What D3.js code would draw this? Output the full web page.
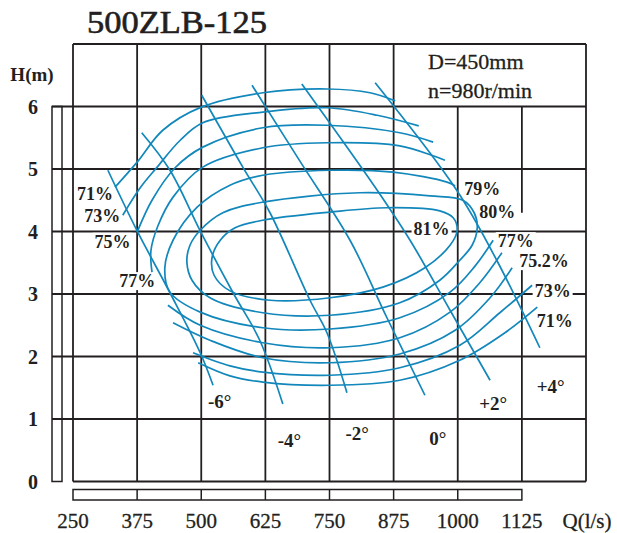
<!DOCTYPE html>
<html>
<head>
<meta charset="utf-8">
<script src="https://cdn.jsdelivr.net/npm/d3@7"></script>
<style>
	body { margin: 0; background: #fff; }
	svg text { font-family: "Liberation Serif", "Times New Roman", serif; fill: #231f20; }
</style>
</head>
<body>
<svg id="chart" width="617" height="533"></svg>
<script>
// axis ticks
var qTicks = [250, 375, 500, 625, 750, 875, 1000, 1125];
var hTicks = [0, 1, 2, 3, 4, 5, 6];

// blade angle Q-H lines, [Q l/s, H m]
var bladeLabels = ["-6°", "-4°", "-2°", "0°", "+2°", "+4°"];
var bladeLabelPos = [[536, 1.18], [672, 0.55], [804, 0.66], [961, 0.58], [1069, 1.14], [1181, 1.42]];
var bladeM6 = [[318, 4.98], [375, 4.01], [439, 3.02], [498, 2.06], [523, 1.54]];
var bladeM4 = [[384, 5.58], [439, 4.98], [498, 4.01], [562, 3.02], [614, 2.26], [659, 1.24]];
var bladeM2 = [[501, 6.18], [581, 5.03], [634, 4.30], [712, 2.90], [745, 2.38], [784, 1.42]];
var blade0 = [[599, 6.34], [692, 5.13], [790, 3.86], [862, 2.62], [936, 1.38]];
var bladeP2 = [[696, 6.36], [843, 4.66], [907, 3.86], [985, 2.74], [1063, 1.62]];
var bladeP4 = [[839, 6.38], [998, 4.66], [1076, 3.54], [1160, 2.14]];

// efficiency curves, upper arcs
var eff71Top = [[332, 4.71], [375, 5.11], [425, 5.62], [500, 5.99], [620, 6.22], [745, 6.28], [829, 6.22], [878, 6.09]];
var eff73Top = [[347, 4.26], [381, 4.70], [414, 5.03], [459, 5.46], [503, 5.74], [620, 5.91], [745, 5.98], [843, 5.86], [924, 5.69]];
var eff75Top = [[375, 3.99], [404, 4.50], [449, 5.02], [503, 5.35], [620, 5.66], [745, 5.70], [887, 5.58], [952, 5.43]];
var eff77Top = [[404, 3.35], [402, 3.70], [416, 4.10], [445, 4.55], [503, 5.03], [620, 5.34], [745, 5.42], [887, 5.37], [975, 5.14]];
// lower arcs
var effLow1 = [[435, 2.82], [498, 2.50], [620, 2.22], [751, 2.14], [887, 2.30], [985, 2.71], [1043, 3.18], [1086, 3.66]];
var effLow2 = [[445, 2.54], [517, 2.26], [620, 1.98], [751, 1.90], [887, 2.04], [995, 2.42], [1063, 2.94], [1106, 3.42]];
var effLow3 = [[484, 2.06], [556, 1.85], [620, 1.75], [751, 1.70], [887, 1.82], [1004, 2.18], [1082, 2.70], [1145, 3.14]];
var effLow4 = [[494, 1.90], [556, 1.69], [620, 1.59], [751, 1.54], [887, 1.62], [1004, 1.94], [1092, 2.38], [1155, 2.79]];
// 79% (open on the right), 80% and 81% loops
var eff79 = [[995, 4.73], [979, 4.79], [874, 4.95], [751, 4.98], [620, 4.90], [556, 4.74], [492, 4.39], [445, 3.86],
	[429, 3.42], [439, 3.03], [498, 2.71], [620, 2.46], [751, 2.44], [887, 2.62], [985, 3.03], [1034, 3.45], [1069, 3.86]];
var eff80 = [[620, 4.47], [809, 4.62], [946, 4.57], [1010, 4.50], [1032, 4.30], [1038, 4.06], [1028, 3.78], [1004, 3.54],
	[965, 3.22], [887, 2.86], [751, 2.66], [620, 2.70], [517, 2.94], [482, 3.22], [472, 3.51], [478, 3.78], [498, 4.02], [542, 4.30]];
var eff81 = [[620, 4.18], [751, 4.31], [862, 4.38], [965, 4.33], [991, 4.22], [999, 4.02], [985, 3.78], [936, 3.42],
	[854, 3.11], [751, 2.94], [634, 2.90], [556, 3.05], [525, 3.30], [521, 3.58], [537, 3.86], [566, 4.06]];

var effLabels = ["71%", "73%", "75%", "77%", "79%", "80%", "81%", "77%", "75.2%", "73%", "71%"];
var effLabelPos = [[293, 4.50], [307, 4.15], [327, 3.74], [375, 3.11], [1048, 4.58], [1077, 4.22], [949, 3.94],
	[1113, 3.75], [1168, 3.43], [1185, 2.95], [1189, 2.47]];

var ink = "#231f20",
	blue = "#1287bb";

var svg = d3.select("#chart");
var x = d3.scaleLinear().domain([250, 1250]).range([73, 586]);
var y = d3.scaleLinear().domain([0, 7]).range([481.5, 44]);

svg.append("text")
	.attr("x", 87).attr("y", 33)
	.attr("textLength", 180).attr("lengthAdjust", "spacingAndGlyphs")
	.attr("stroke", ink).attr("stroke-width", 0.6)
	.style("font-size", "31px")
	.text("500ZLB-125");

// grid
var grid = svg.append("g").attr("stroke", ink).attr("stroke-width", 1.8).attr("fill", "none");
d3.range(250, 1251, 125).forEach(function(q) {
	var top = (q === 1000 || q === 1125) ? 6 : 7;
	if (q === 1125) {
		grid.append("line").attr("x1", x(q)).attr("x2", x(q)).attr("y1", y(6)).attr("y2", y(4.3));
		grid.append("line").attr("x1", x(q)).attr("x2", x(q)).attr("y1", y(3.45)).attr("y2", y(0));
	} else {
		grid.append("line").attr("x1", x(q)).attr("x2", x(q)).attr("y1", y(top)).attr("y2", y(0));
	}
});
[0, 1, 2, 3, 4, 5, 6, 7].forEach(function(h) {
	var left = (h === 0 || h === 7) ? x(250) : 52;
	grid.append("line").attr("x1", left).attr("x2", x(1250)).attr("y1", y(h)).attr("y2", y(h));
});

// side bars
var bars = svg.append("g").attr("stroke", ink).attr("stroke-width", 1.5).attr("fill", "none");
bars.append("rect").attr("x", 52).attr("y", y(6)).attr("width", 10).attr("height", y(0) - y(6));
bars.append("rect").attr("x", x(250)).attr("y", 489.5).attr("width", x(1125) - x(250)).attr("height", 10.5);
qTicks.slice(1, -1).forEach(function(q) {
	bars.append("line").attr("x1", x(q)).attr("x2", x(q)).attr("y1", 489.5).attr("y2", 500);
});

// axis labels
svg.append("g").selectAll("text").data(qTicks).join("text")
	.attr("x", d => x(d)).attr("y", 528)
	.attr("text-anchor", "middle")
	.attr("stroke", ink).attr("stroke-width", 0.3)
	.style("font-size", "21px")
	.text(d => d);
svg.append("text").attr("x", 587).attr("y", 528).attr("text-anchor", "middle")
	.attr("stroke", ink).attr("stroke-width", 0.3)
	.style("font-size", "21px").text("Q(l/s)");
svg.append("g").selectAll("text").data(hTicks).join("text")
	.attr("x", 33).attr("y", d => y(d) + 7)
	.attr("text-anchor", "middle")
	.style("font-size", "20px").style("font-weight", "bold")
	.text(d => d);
svg.append("text").attr("x", 32).attr("y", 81).attr("text-anchor", "middle")
	.style("font-size", "19px").style("font-weight", "bold").text("H(m)");

svg.append("text").attr("x", 428).attr("y", 69).attr("stroke", ink).attr("stroke-width", 0.3)
	.style("font-size", "22px").text("D=450mm");
svg.append("text").attr("x", 428).attr("y", 98).attr("stroke", ink).attr("stroke-width", 0.3)
	.style("font-size", "22px").text("n=980r/min");

var labelBg = svg.append("g").attr("fill", "#fff");
var curveG = svg.append("g").attr("fill", "none").attr("stroke", blue).attr("stroke-width", 1.7);
var labelG = svg.append("g");

var openLine = d3.line().x(d => x(d[0])).y(d => y(d[1])).curve(d3.curveCatmullRom.alpha(0.5));
var closedLine = d3.line().x(d => x(d[0])).y(d => y(d[1])).curve(d3.curveCatmullRomClosed.alpha(0.5));

[bladeM6, bladeM4, bladeM2, blade0, bladeP2, bladeP4,
	eff71Top, eff73Top, eff75Top, eff77Top, eff79,
	effLow1, effLow2, effLow3, effLow4].forEach(function(c) {
	curveG.append("path").attr("d", openLine(c));
});
[eff80, eff81].forEach(function(c) {
	curveG.append("path").attr("d", closedLine(c));
});

function addLabel(t, pos, size) {
	var txt = labelG.append("text")
		.attr("x", x(pos[0])).attr("y", y(pos[1]))
		.attr("text-anchor", "middle")
		.style("font-size", size).style("font-weight", "bold")
		.text(t);
	var b = txt.node().getBBox();
	labelBg.append("rect")
		.attr("x", b.x - 2).attr("y", b.y + 1)
		.attr("width", b.width + 4).attr("height", b.height - 2);
}
effLabels.forEach(function(t, i) { addLabel(t, effLabelPos[i], "18px"); });
bladeLabels.forEach(function(t, i) { addLabel(t, bladeLabelPos[i], "19px"); });
</script>
</body>
</html>
